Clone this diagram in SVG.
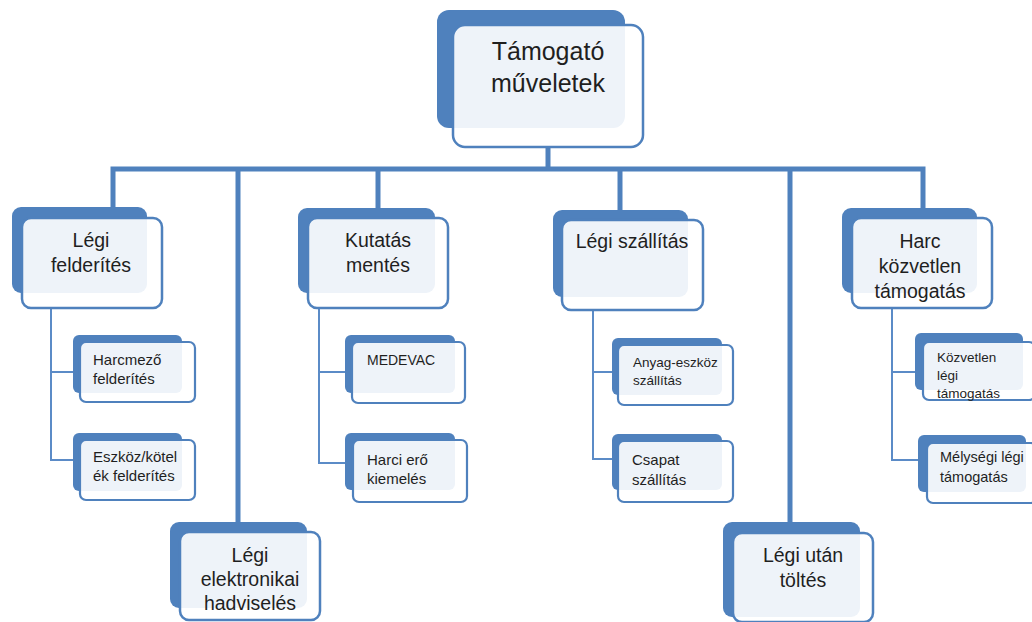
<svg xmlns="http://www.w3.org/2000/svg" width="1032" height="622" viewBox="0 0 1032 622">
<style>
.bk{fill:#4f81bd}
.fr{fill:#ffffff;fill-opacity:0.9;stroke:#4f81bd;stroke-width:2.5}
.frs{fill:#ffffff;fill-opacity:0.9;stroke:#4f81bd;stroke-width:2.2}
.thick{fill:none;stroke:#4f81bd;stroke-width:5}
.thin{fill:none;stroke:#5b8bc7;stroke-width:2}
text{font-family:"Liberation Sans",Arial,sans-serif;fill:#1f1f1f}
.t0{font-size:25px;text-anchor:middle}
.t1{font-size:19.5px;text-anchor:middle}
.t2{font-size:15px}
.t3{font-size:13.5px}
</style>
<rect width="1032" height="622" fill="#ffffff"/>
<g id="connectors">
<path class="thick" d="M548 147V169"/>
<path class="thick" d="M113 208V169H923V208"/>
<path class="thick" d="M238 169V522"/>
<path class="thick" d="M378 169V208"/>
<path class="thick" d="M620 169V210"/>
<path class="thick" d="M790 169V522"/>
<path class="thin" d="M51 308V460H80M51 372H80"/>
<path class="thin" d="M319 308V463H353M319 372H352"/>
<path class="thin" d="M593 310V459H618M593 372H618"/>
<path class="thin" d="M892 308V460H927M892 372H923"/>
</g>
<g id="root">
<rect class="bk" x="437" y="10" width="188" height="118" rx="12"/>
<rect class="fr" x="453" y="25" width="190" height="122" rx="12"/>
<text class="t0" x="548" y="60">Támogató</text>
<text class="t0" x="548" y="92">műveletek</text>
</g>
<g id="legi-felderites">
<rect class="bk" x="12" y="207" width="135" height="86" rx="9"/>
<rect class="fr" x="22" y="218" width="140" height="90" rx="9"/>
<text class="t1" x="91" y="247">Légi</text>
<text class="t1" x="91" y="272">felderítés</text>
</g>
<g id="harcmezo">
<rect class="bk" x="73" y="335" width="109" height="58" rx="6"/>
<rect class="frs" x="80" y="342" width="115" height="60" rx="6"/>
<text class="t2" x="93" y="365">Harcmező</text>
<text class="t2" x="93" y="384">felderítés</text>
</g>
<g id="eszkoz">
<rect class="bk" x="73" y="433" width="109" height="58" rx="6"/>
<rect class="frs" x="80" y="440" width="115" height="60" rx="6"/>
<text class="t2" x="93" y="462">Eszköz/kötel</text>
<text class="t2" x="93" y="481">ék felderítés</text>
</g>
<g id="legi-elektronikai">
<rect class="bk" x="170" y="522" width="137" height="86" rx="9"/>
<rect class="fr" x="180" y="532" width="140" height="88" rx="9"/>
<text class="t1" x="250" y="562">Légi</text>
<text class="t1" x="250" y="586">elektronikai</text>
<text class="t1" x="250" y="610">hadviselés</text>
</g>
<g id="kutatas">
<rect class="bk" x="298" y="208" width="137" height="85" rx="9"/>
<rect class="fr" x="308" y="218" width="140" height="90" rx="9"/>
<text class="t1" x="378" y="247">Kutatás</text>
<text class="t1" x="378" y="272">mentés</text>
</g>
<g id="medevac">
<rect class="bk" x="345" y="335" width="110" height="58" rx="6"/>
<rect class="frs" x="352" y="342" width="113" height="61" rx="6"/>
<text class="t2" x="367" y="365" style="font-size:14px">MEDEVAC</text>
</g>
<g id="harci-ero">
<rect class="bk" x="345" y="433" width="110" height="57" rx="6"/>
<rect class="frs" x="353" y="440" width="114" height="62" rx="6"/>
<text class="t2" x="367" y="465">Harci erő</text>
<text class="t2" x="367" y="484">kiemelés</text>
</g>
<g id="legi-szallitas">
<rect class="bk" x="553" y="210" width="135" height="87" rx="9"/>
<rect class="fr" x="562" y="220" width="141" height="90" rx="9"/>
<text class="t1" x="632" y="248">Légi szállítás</text>
</g>
<g id="anyag">
<rect class="bk" x="612" y="338" width="110" height="57" rx="6"/>
<rect class="frs" x="618" y="345" width="115" height="60" rx="6"/>
<text class="t3" x="633" y="367">Anyag-eszköz</text>
<text class="t3" x="633" y="385">szállítás</text>
</g>
<g id="csapat">
<rect class="bk" x="612" y="434" width="110" height="56" rx="6"/>
<rect class="frs" x="618" y="441" width="115" height="61" rx="6"/>
<text class="t2" x="632" y="465">Csapat</text>
<text class="t2" x="632" y="485">szállítás</text>
</g>
<g id="legi-utan-toltes">
<rect class="bk" x="723" y="522" width="137" height="95" rx="9"/>
<rect class="fr" x="733" y="533" width="140" height="89" rx="9"/>
<text class="t1" x="803" y="562">Légi után</text>
<text class="t1" x="803" y="587">töltés</text>
</g>
<g id="harc-kozvetlen">
<rect class="bk" x="842" y="208" width="135" height="85" rx="9"/>
<rect class="fr" x="852" y="218" width="140" height="90" rx="9"/>
<text class="t1" x="920" y="248">Harc</text>
<text class="t1" x="920" y="273">közvetlen</text>
<text class="t1" x="920" y="298">támogatás</text>
</g>
<g id="kozvetlen-legi">
<rect class="bk" x="915" y="333" width="108" height="57" rx="6"/>
<rect class="frs" x="923" y="342" width="112" height="58" rx="6"/>
<text class="t3" x="937" y="362">Közvetlen</text>
<text class="t3" x="937" y="380">légi</text>
<text class="t3" x="937" y="398">támogatás</text>
</g>
<g id="melysegi">
<rect class="bk" x="918" y="435" width="108" height="57" rx="6"/>
<rect class="frs" x="927" y="443" width="110" height="60" rx="6"/>
<text class="t2" x="940" y="462" style="font-size:14.5px">Mélységi légi</text>
<text class="t2" x="940" y="482" style="font-size:14.5px">támogatás</text>
</g>
</svg>
